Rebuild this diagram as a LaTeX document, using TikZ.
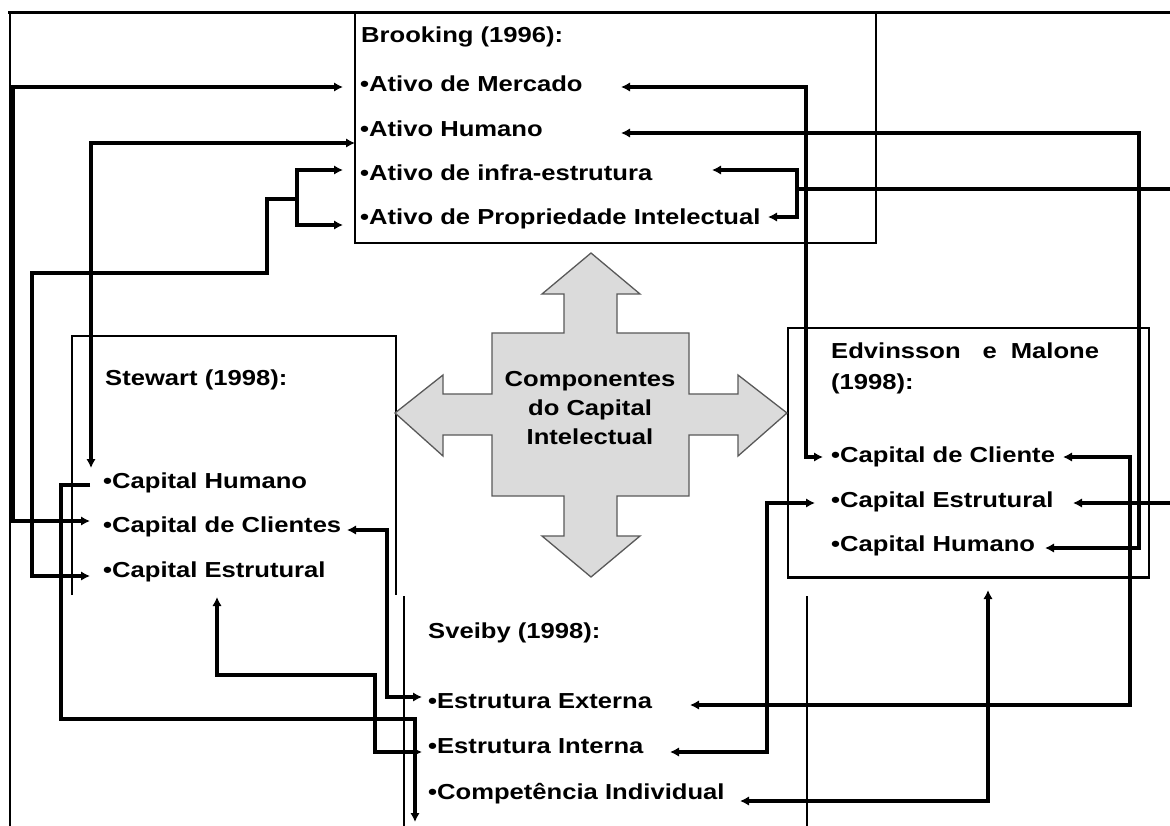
\documentclass[tikz,border=0pt]{standalone}
\usepackage{fontspec}
\setmainfont[FakeStretch=1.18]{Liberation Sans}
\usetikzlibrary{arrows.meta}
\begin{document}
\begin{tikzpicture}[x=1pt,y=-1pt,
  conn/.style={line width=3.6pt},
  oneend/.style={conn,-{Latex[length=9pt,width=9.5pt]}},
  twoend/.style={conn,{Latex[length=9pt,width=9.5pt]}-{Latex[length=9pt,width=9.5pt]}},
  boxline/.style={line width=1.1pt},
  lbl/.style={anchor=base west,inner sep=0pt,font=\fontsize{21.7}{26}\selectfont\bfseries}]
\useasboundingbox (0,0) rectangle (1170,825);
\fill[white] (0,0) rectangle (1170,825);

% frame
\draw[line width=3pt] (8,12) -- (1175,12);
\draw[line width=2pt] (10,12) -- (10,830);

% boxes
\node[draw,boxline,minimum width=521pt,minimum height=231pt,inner sep=0pt] (bBox) at (615.5,127.5) {};
\draw[boxline] (72,595) -- (72,336) -- (396,336) -- (396,595);
\draw[boxline] (404,596) -- (404,830);
\draw[boxline] (807,596) -- (807,830);
\node[draw,boxline,minimum width=361pt,minimum height=249pt,inner sep=0pt] (eBox) at (968.5,452.5) {};
\draw[line width=2.6pt] (eBox.south west) -- (eBox.south east);

% central quad arrow
\draw[fill=gray!28,draw=black!65,line width=1.3pt,line join=miter]
  (591,253) -- (640,294) -- (617,294) -- (617,333) -- (689,333) -- (689,394) -- (738,394)
  -- (738,375) -- (787,413) -- (738,456) -- (738,435) -- (689,435) -- (689,496) -- (617,496)
  -- (617,536) -- (640,536) -- (591,577) -- (542,536) -- (564,536) -- (564,496) -- (492,496)
  -- (492,435) -- (443,435) -- (443,456) -- (395,413) -- (443,375) -- (443,394) -- (492,394)
  -- (492,333) -- (564,333) -- (564,294) -- (542,294) -- cycle;
\node[align=center,inner sep=0pt,font=\fontsize{21.7}{29}\selectfont\bfseries] (cc) at (590,408)
  {Componentes\\do Capital\\Intelectual};

% texts
\node[lbl] (bT) at (361,42) {Brooking (1996):};
\node[lbl] (b1) at (360,91) {•Ativo de Mercado};
\node[lbl] (b2) at (360,136) {•Ativo Humano};
\node[lbl] (b3) at (360,180) {•Ativo de infra-estrutura};
\node[lbl] (b4) at (360,224) {•Ativo de Propriedade Intelectual};

\node[lbl] (sT) at (105,385) {Stewart (1998):};
\node[lbl] (s1) at (103,488) {•Capital Humano};
\node[lbl] (s2) at (103,532) {•Capital de Clientes};
\node[lbl] (s3) at (103,577) {•Capital Estrutural};

\node[lbl] (eT) at (831,358) {Edvinsson\hspace{22pt}e\hspace{14pt}Malone};
\node[lbl] (eT2) at (831,389) {(1998):};
\node[lbl] (e1) at (831,462) {•Capital de Cliente};
\node[lbl] (e2) at (831,507) {•Capital Estrutural};
\node[lbl] (e3) at (831,551) {•Capital Humano};

\node[lbl] (vT) at (428,638) {Sveiby (1998):};
\node[lbl] (v1) at (428,708) {•Estrutura Externa};
\node[lbl] (v2) at (428,753) {•Estrutura Interna};
\node[lbl] (v3) at (428,799) {•Competência Individual};

% connector end points
\coordinate (b1L) at (343,87);
\coordinate (b2L) at (355,143);
\coordinate (b3L) at (343,170);
\coordinate (b4L) at (343,225);
\coordinate (fkL) at (297,199);
\coordinate (b1R) at (621,87);
\coordinate (b2R) at (621,133);
\coordinate (b3R) at (712,170);
\coordinate (b4R) at (768,217);
\coordinate (fkR) at (797,189);
\coordinate (s1T) at (91,468);
\coordinate (s1L) at (90,485);
\coordinate (s2L) at (90,521);
\coordinate (s3L) at (90,576);
\coordinate (s2R) at (347,530);
\coordinate (s3B) at (217,597);
\coordinate (e1L) at (823,457);
\coordinate (e2L) at (815,503);
\coordinate (e1R) at (1063,457);
\coordinate (e2R) at (1073,503);
\coordinate (e3R) at (1045,548);
\coordinate (eB) at (988,590);
\coordinate (v1L) at (422,697);
\coordinate (v2L) at (422,752);
\coordinate (v1R) at (690,705);
\coordinate (v2R) at (670,752);
\coordinate (v3R) at (740,801);
\coordinate (v3B) at (415,822);

% connectors
\draw[twoend] (b1L) -| (13,521) -- (s2L);
\draw[twoend] (b2L) -| (s1T);
\draw[twoend] (b3L) -| (297,225) -- (b4L);
\draw[oneend] (fkL) -| (267,273) -| (32,576) -- (s3L);
\draw[twoend] (b1R) -| (806,457) -- (e1L);
\draw[twoend] (b2R) -| (1139,548) -- (e3R);
\draw[twoend] (b3R) -| (797,217) -- (b4R);
\draw[oneend] (fkR) -- (1180,189) |- (e2R);
\draw[oneend] (s1L) -| (61,719) -| (v3B);
\draw[twoend] (s2R) -| (387,697) -- (v1L);
\draw[twoend] (s3B) |- (375,675) |- (v2L);
\draw[twoend] (v1R) -| (1130,457) -- (e1R);
\draw[twoend] (v2R) -| (767,503) -- (e2L);
\draw[twoend] (v3R) -| (eB);
\end{tikzpicture}
\end{document}
